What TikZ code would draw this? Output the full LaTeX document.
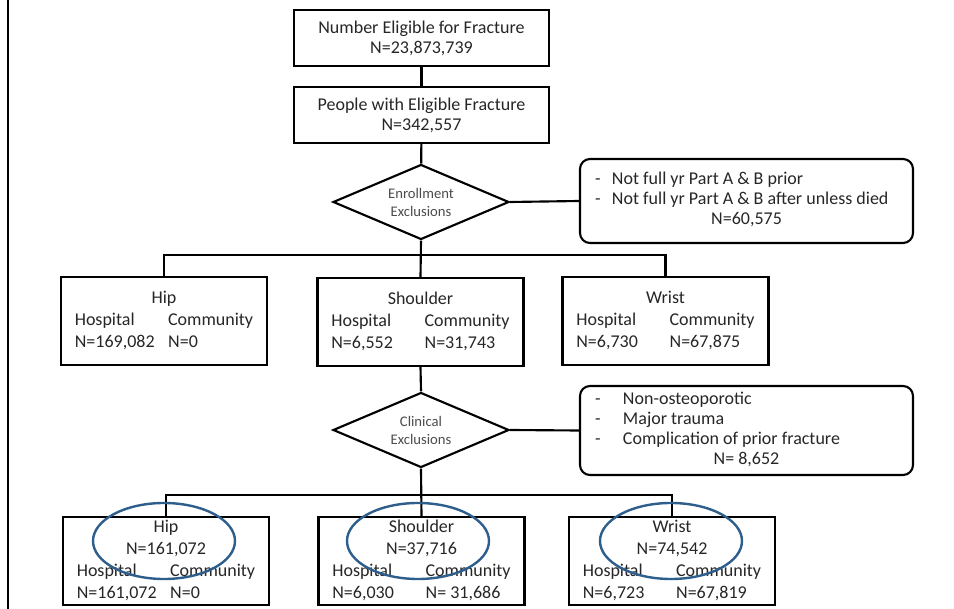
\documentclass[tikz,border=0pt]{standalone}
\usepackage{fontspec}
\setmainfont{Carlito}
\usetikzlibrary{shapes.geometric}
\definecolor{ringblue}{RGB}{46,94,140}

\begin{document}
\begin{tikzpicture}[
    x=0.75pt,
    y=-0.75pt,
    line width=1.6pt,
    box/.style={draw, rectangle, inner sep=0pt, align=center,
        text=black!85, font=\fontsize{13.5}{15}\selectfont},
    flowbox/.style={box, minimum width=191.25pt, minimum height=42pt},
    fracbox/.style={box, minimum width=154.5pt, minimum height=66pt,
        font=\fontsize{13.5}{16.5}\selectfont},
    exclbox/.style={box, rounded corners=7.5pt, minimum width=249.75pt},
    decision/.style={draw, diamond, aspect=2.35, inner sep=0pt,
        minimum width=132pt, minimum height=56.25pt, align=center,
        text=black!70, font=\fontsize{11}{13.5}\selectfont},
    ring/.style={draw=ringblue, ellipse, line width=1.8pt,
        minimum width=106.5pt, minimum height=57pt}
  ]
  \useasboundingbox (0,0) rectangle (954,609);
  \draw[line width=1.5pt] (8,0) -- (8,609);

  % top of the flow
  \node[flowbox] (eligible) at (421.5,38)
    {Number Eligible for Fracture\\N=23,873,739};
  \node[flowbox] (fracture) at (421.5,115)
    {People with Eligible Fracture\\N=342,557};
  \node[decision] (enrol) at (421,202) {Enrollment\\Exclusions};
  \node[exclbox, minimum height=63pt] (enrolout) at (746.5,201)
    {\begin{tabular}{@{}p{12.75pt}@{}p{214.5pt}@{}}
      - & Not full yr Part A \& B prior\\
      - & Not full yr Part A \& B after unless died\\
      \multicolumn{2}{c}{N=60,575}
    \end{tabular}};

  % first split
  \coordinate (split1) at (421,255);
  \node[fracbox] (hip1) at (164,321)
    {\begin{tabular}{@{}p{70pt}@{}l@{}}
      \multicolumn{2}{c}{Hip}\\
      Hospital & Community\\
      N=169,082 & N=0
    \end{tabular}};
  \node[fracbox] (shoulder1) at (420.5,322)
    {\begin{tabular}{@{}p{70pt}@{}l@{}}
      \multicolumn{2}{c}{Shoulder}\\
      Hospital & Community\\
      N=6,552 & N=31,743
    \end{tabular}};
  \node[fracbox] (wrist1) at (665.5,321)
    {\begin{tabular}{@{}p{70pt}@{}l@{}}
      \multicolumn{2}{c}{Wrist}\\
      Hospital & Community\\
      N=6,730 & N=67,875
    \end{tabular}};

  \node[decision] (clinic) at (421,430) {Clinical\\Exclusions};
  \node[exclbox, minimum height=66.75pt] (clinicout) at (746.5,430.5)
    {\begin{tabular}{@{}p{21pt}@{}p{206.25pt}@{}}
      - & Non-osteoporotic\\
      - & Major trauma\\
      - & Complication of prior fracture\\
      \multicolumn{2}{c}{N= 8,652}
    \end{tabular}};

  % second split
  \coordinate (split2) at (421,495);
  \node[fracbox] (hip2) at (166,561)
    {\begin{tabular}{@{}p{70pt}@{}l@{}}
      \multicolumn{2}{c}{Hip}\\
      \multicolumn{2}{c}{N=161,072}\\
      Hospital & Community\\
      N=161,072 & N=0
    \end{tabular}};
  \node[fracbox] (shoulder2) at (421.5,561)
    {\begin{tabular}{@{}p{70pt}@{}l@{}}
      \multicolumn{2}{c}{Shoulder}\\
      \multicolumn{2}{c}{N=37,716}\\
      Hospital & Community\\
      N=6,030 & N= 31,686
    \end{tabular}};
  \node[fracbox] (wrist2) at (672,561)
    {\begin{tabular}{@{}p{70pt}@{}l@{}}
      \multicolumn{2}{c}{Wrist}\\
      \multicolumn{2}{c}{N=74,542}\\
      Hospital & Community\\
      N=6,723 & N=67,819
    \end{tabular}};

  \draw (eligible) -- (fracture);
  \draw (fracture) -- (enrol);
  \draw (enrol.east) -- (enrolout.west);
  \draw (enrol.south) -- (shoulder1.north);
  \draw (hip1.north) |- (split1) -| (wrist1.north);
  \draw (shoulder1.south) -- (clinic.north);
  \draw (clinic.east) -- (clinicout.west);
  \draw (clinic.south) -- (shoulder2.north);
  \draw (hip2.north) |- (split2) -| (wrist2.north);

  % rings round the totals
  \node[ring] (hipring) at (164,541) {};
  \node[ring] (shoulderring) at (418,541) {};
  \node[ring] (wristring) at (671,541) {};
\end{tikzpicture}
\end{document}
